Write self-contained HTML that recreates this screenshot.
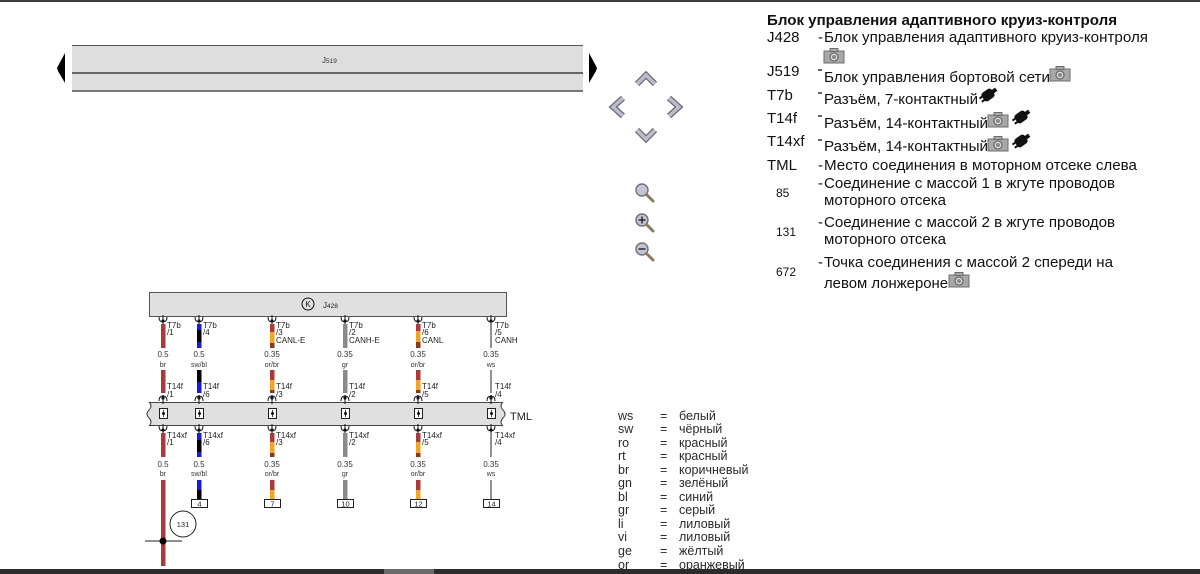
<!DOCTYPE html>
<html><head><meta charset="utf-8"><style>
html,body{margin:0;padding:0;background:#fff;}
svg{display:block;}
text{font-family:"Liberation Sans",Arial,sans-serif;}
</style></head><body>
<svg width="1200" height="574" viewBox="0 0 1200 574" xmlns="http://www.w3.org/2000/svg">
<defs>
<g id="cam">
<rect x="0" y="3" width="20" height="12" fill="#a8a8a8" stroke="#6e6e6e" stroke-width="1"/>
<rect x="6" y="0.5" width="8" height="3" fill="#a8a8a8" stroke="#6e6e6e" stroke-width="1"/>
<circle cx="10" cy="9" r="4" fill="#d8d8d8" stroke="#555" stroke-width="1"/>
<circle cx="10" cy="9" r="2" fill="#888"/>
</g>
<g id="plug">
<g transform="rotate(-35 9 8)">
<rect x="3" y="3" width="12" height="10" rx="3" fill="#111"/>
<rect x="0" y="5" width="4" height="2" fill="#111"/>
<rect x="0" y="9" width="4" height="2" fill="#111"/>
<rect x="14" y="6" width="5" height="4" fill="#111"/>
</g>
</g>
<g id="pinA">
<path d="M-4,-4 Q-4,1 0,1 Q4,1 4,-4" fill="none" stroke="#111" stroke-width="1"/>
<line x1="0" y1="-6" x2="0" y2="3" stroke="#111" stroke-width="1"/>
<circle cx="0" cy="0" r="1.6" fill="#111"/>
</g>
<g id="pinB">
<path d="M-4,3 Q-4,-2 0,-2 Q4,-2 4,3" fill="none" stroke="#111" stroke-width="1"/>
<line x1="0" y1="-3" x2="0" y2="6" stroke="#111" stroke-width="1"/>
<circle cx="0" cy="0" r="1.6" fill="#111"/>
</g>
<g id="mag">
<circle cx="6" cy="6" r="6" fill="#c4c4d6" stroke="#707078" stroke-width="1.4"/>
<line x1="10.5" y1="10.5" x2="17" y2="17" stroke="#8a7a60" stroke-width="3" stroke-linecap="round"/>
</g>
</defs>

<!-- top and bottom bars -->
<rect x="0" y="0" width="1200" height="2" fill="#3c3c3c"/>

<!-- J519 -->
<rect x="72" y="45" width="511" height="47" fill="#dedede"/>
<line x1="72" y1="45.5" x2="583" y2="45.5" stroke="#555" stroke-width="1"/>
<line x1="72" y1="73" x2="583" y2="73" stroke="#666" stroke-width="2"/>
<line x1="72" y1="91" x2="583" y2="91" stroke="#555" stroke-width="1.5"/>
<text x="322" y="63" font-size="8" fill="#333">J<tspan font-size="6.5">519</tspan></text>
<polygon points="65,53 58,66 57,68 58,71 65,83" fill="#000"/>
<polygon points="589,53 596,66 597,68 596,71 589,83" fill="#000"/>

<!-- navigation -->
<g fill="none" stroke-linejoin="miter">
<polyline points="637,84 646,75 655,84" stroke="#6a6a74" stroke-width="6"/>
<polyline points="637,84 646,75 655,84" stroke="#bcbccc" stroke-width="3.5"/>
<polyline points="623,98 613,107 623,116" stroke="#6a6a74" stroke-width="6"/>
<polyline points="623,98 613,107 623,116" stroke="#bcbccc" stroke-width="3.5"/>
<polyline points="669,98 679,107 669,116" stroke="#6a6a74" stroke-width="6"/>
<polyline points="669,98 679,107 669,116" stroke="#bcbccc" stroke-width="3.5"/>
<polyline points="637,130 646,139 655,130" stroke="#6a6a74" stroke-width="6"/>
<polyline points="637,130 646,139 655,130" stroke="#bcbccc" stroke-width="3.5"/>
</g>
<use href="#mag" x="636" y="184"/>
<use href="#mag" x="636" y="214"/>
<line x1="638.5" y1="220" x2="645.5" y2="220" stroke="#222" stroke-width="1.4"/>
<line x1="642" y1="216.5" x2="642" y2="223.5" stroke="#222" stroke-width="1.4"/>
<use href="#mag" x="636" y="243"/>
<line x1="638.5" y1="249" x2="645.5" y2="249" stroke="#222" stroke-width="1.4"/>

<!-- right description -->
<g font-size="15" fill="#111">
<text x="767" y="25" font-weight="bold" textLength="350" lengthAdjust="spacingAndGlyphs">Блок управления адаптивного круиз-контроля</text>
<text x="767" y="42">J428</text>
<text x="818" y="42">-</text>
<text x="824" y="42" textLength="324" lengthAdjust="spacingAndGlyphs">Блок управления адаптивного круиз-контроля</text>
<use href="#cam" x="824" y="48"/>
<text x="767" y="76">J519</text>
<line x1="818" y1="70" x2="822" y2="70" stroke="#111" stroke-width="1.3"/>
<text x="824" y="82" textLength="226" lengthAdjust="spacingAndGlyphs">Блок управления бортовой сети</text>
<use href="#cam" x="1050" y="66"/>
<text x="767" y="100">T7b</text>
<line x1="818" y1="93" x2="822" y2="93" stroke="#111" stroke-width="1.3"/>
<text x="824" y="104" textLength="154" lengthAdjust="spacingAndGlyphs">Разъём, 7-контактный</text>
<use href="#plug" x="979" y="87"/>
<text x="767" y="123">T14f</text>
<line x1="818" y1="116" x2="822" y2="116" stroke="#111" stroke-width="1.3"/>
<text x="824" y="128" textLength="164" lengthAdjust="spacingAndGlyphs">Разъём, 14-контактный</text>
<use href="#cam" x="988" y="112"/>
<use href="#plug" x="1012" y="109"/>
<text x="767" y="146">T14xf</text>
<line x1="818" y1="140" x2="822" y2="140" stroke="#111" stroke-width="1.3"/>
<text x="824" y="151" textLength="164" lengthAdjust="spacingAndGlyphs">Разъём, 14-контактный</text>
<use href="#cam" x="988" y="136"/>
<use href="#plug" x="1012" y="133"/>
<text x="767" y="170">TML</text>
<text x="818" y="170">-</text>
<text x="824" y="170" textLength="313" lengthAdjust="spacingAndGlyphs">Место соединения в моторном отсеке слева</text>
<text x="818" y="188">-</text>
<text x="824" y="188" textLength="291" lengthAdjust="spacingAndGlyphs">Соединение с массой 1 в жгуте проводов</text>
<text x="824" y="205" textLength="122" lengthAdjust="spacingAndGlyphs">моторного отсека</text>
<text x="818" y="227">-</text>
<text x="824" y="227" textLength="291" lengthAdjust="spacingAndGlyphs">Соединение с массой 2 в жгуте проводов</text>
<text x="824" y="244" textLength="122" lengthAdjust="spacingAndGlyphs">моторного отсека</text>
<text x="818" y="267">-</text>
<text x="824" y="267" textLength="289" lengthAdjust="spacingAndGlyphs">Точка соединения с массой 2 спереди на</text>
<text x="824" y="288" textLength="124" lengthAdjust="spacingAndGlyphs">левом лонжероне</text>
<use href="#cam" x="949" y="272"/>
</g>
<g font-size="12" fill="#111">
<text x="776" y="197">85</text>
<text x="776" y="236">131</text>
<text x="776" y="276">672</text>
</g>

<!-- J428 box -->
<rect x="149.5" y="292.5" width="357" height="24" fill="#e0e0e0" stroke="#555" stroke-width="1"/>
<circle cx="308" cy="304" r="6" fill="none" stroke="#111" stroke-width="1"/>
<text x="308" y="307" font-size="8" text-anchor="middle" fill="#111">K</text>
<text x="323" y="308" font-size="8" fill="#222">J<tspan font-size="6.5">428</tspan></text>

<!-- TML bar -->
<path d="M149,402 L503,402 Q499,406 503,410 Q507,414 503,418 Q499,422 503,426 L149,426 Q153,422 149,418 Q145,414 149,410 Q153,406 149,402 Z" fill="#e0e0e0"/>
<line x1="149" y1="402.5" x2="503" y2="402.5" stroke="#444" stroke-width="1"/>
<line x1="149" y1="425.5" x2="503" y2="425.5" stroke="#444" stroke-width="1"/>
<path d="M149,402 Q153,406 149,410 Q145,414 149,418 Q153,422 149,426" fill="none" stroke="#444" stroke-width="1"/>
<path d="M503,402 Q499,406 503,410 Q507,414 503,418 Q499,422 503,426" fill="none" stroke="#444" stroke-width="1"/>
<text x="510" y="420" font-size="11" fill="#222">TML</text>

<!-- wires -->
<g>
<rect x="161" y="324" width="4.5" height="24" fill="#ad3a3a"/>
<rect x="161" y="370" width="4.5" height="23" fill="#ad3a3a"/>
<rect x="161" y="433" width="4.5" height="24" fill="#ad3a3a"/>
<rect x="161" y="480" width="4.5" height="86" fill="#ad3a3a"/>
<rect x="197" y="324" width="4.5" height="6" fill="#1a1ad8"/>
<rect x="197" y="330" width="4.5" height="12" fill="#000"/>
<rect x="197" y="342" width="4.5" height="6" fill="#1a1ad8"/>
<rect x="197" y="370" width="4.5" height="12" fill="#000"/>
<rect x="197" y="382" width="4.5" height="11" fill="#1a1ad8"/>
<rect x="197" y="433" width="4.5" height="7" fill="#1a1ad8"/>
<rect x="197" y="440" width="4.5" height="12" fill="#000"/>
<rect x="197" y="452" width="4.5" height="5" fill="#1a1ad8"/>
<rect x="197" y="480" width="4.5" height="10" fill="#1a1ad8"/>
<rect x="197" y="490" width="4.5" height="9" fill="#000"/>
<rect x="270" y="324" width="4.5" height="8" fill="#ad3a3a"/>
<rect x="270" y="332" width="4.5" height="11" fill="#f2a428"/>
<rect x="270" y="343" width="4.5" height="5" fill="#8a3a1a"/>
<rect x="270" y="370" width="4.5" height="10" fill="#ad3a3a"/>
<rect x="270" y="380" width="4.5" height="10" fill="#f2a428"/>
<rect x="270" y="390" width="4.5" height="3" fill="#8a3a1a"/>
<rect x="270" y="433" width="4.5" height="9" fill="#ad3a3a"/>
<rect x="270" y="442" width="4.5" height="11" fill="#f2a428"/>
<rect x="270" y="453" width="4.5" height="4" fill="#8a3a1a"/>
<rect x="270" y="480" width="4.5" height="10" fill="#ad3a3a"/>
<rect x="270" y="490" width="4.5" height="9" fill="#f2a428"/>
<rect x="343" y="324" width="4.5" height="24" fill="#8a8a8a"/>
<rect x="343" y="370" width="4.5" height="23" fill="#8a8a8a"/>
<rect x="343" y="433" width="4.5" height="24" fill="#8a8a8a"/>
<rect x="343" y="480" width="4.5" height="19" fill="#8a8a8a"/>
<rect x="416" y="324" width="4.5" height="7" fill="#ad3a3a"/>
<rect x="416" y="331" width="4.5" height="11" fill="#f2a428"/>
<rect x="416" y="342" width="4.5" height="6" fill="#8a3a1a"/>
<rect x="416" y="370" width="4.5" height="10" fill="#ad3a3a"/>
<rect x="416" y="380" width="4.5" height="10" fill="#f2a428"/>
<rect x="416" y="390" width="4.5" height="3" fill="#8a3a1a"/>
<rect x="416" y="433" width="4.5" height="9" fill="#ad3a3a"/>
<rect x="416" y="442" width="4.5" height="11" fill="#f2a428"/>
<rect x="416" y="453" width="4.5" height="4" fill="#8a3a1a"/>
<rect x="416" y="480" width="4.5" height="10" fill="#ad3a3a"/>
<rect x="416" y="490" width="4.5" height="9" fill="#f2a428"/>
<g stroke="#222" stroke-width="1">
<line x1="491" y1="324" x2="491" y2="348"/>
<line x1="491" y1="370" x2="491" y2="393"/>
<line x1="491" y1="433" x2="491" y2="457"/>
<line x1="491" y1="480" x2="491" y2="499"/>
</g>
</g>

<!-- pins -->
<use href="#pinA" x="163" y="321"/><use href="#pinA" x="199" y="321"/><use href="#pinA" x="272" y="321"/>
<use href="#pinA" x="345" y="321"/><use href="#pinA" x="418" y="321"/><use href="#pinA" x="491" y="321"/>
<use href="#pinB" x="163" y="398"/><use href="#pinB" x="199" y="398"/><use href="#pinB" x="272" y="398"/>
<use href="#pinB" x="345" y="398"/><use href="#pinB" x="418" y="398"/><use href="#pinB" x="491" y="398"/>
<use href="#pinA" x="163" y="430"/><use href="#pinA" x="199" y="430"/><use href="#pinA" x="272" y="430"/>
<use href="#pinA" x="345" y="430"/><use href="#pinA" x="418" y="430"/><use href="#pinA" x="491" y="430"/>

<!-- TML boxes -->
<g fill="#fff" stroke="#222" stroke-width="1">
<rect x="159.5" y="408.5" width="8" height="10"/><rect x="195.5" y="408.5" width="8" height="10"/>
<rect x="268.5" y="408.5" width="8" height="10"/><rect x="341.5" y="408.5" width="8" height="10"/>
<rect x="414.5" y="408.5" width="8" height="10"/><rect x="487.5" y="408.5" width="8" height="10"/>
</g>
<g fill="#111">
<circle cx="163.5" cy="413.5" r="1.5"/><circle cx="199.5" cy="413.5" r="1.5"/><circle cx="272.5" cy="413.5" r="1.5"/>
<circle cx="345.5" cy="413.5" r="1.5"/><circle cx="418.5" cy="413.5" r="1.5"/><circle cx="491.5" cy="413.5" r="1.5"/>
</g>
<g stroke="#111" stroke-width="0.8">
<line x1="163.5" y1="410" x2="163.5" y2="417"/><line x1="199.5" y1="410" x2="199.5" y2="417"/><line x1="272.5" y1="410" x2="272.5" y2="417"/>
<line x1="345.5" y1="410" x2="345.5" y2="417"/><line x1="418.5" y1="410" x2="418.5" y2="417"/><line x1="491.5" y1="410" x2="491.5" y2="417"/>
</g>

<!-- wire labels -->
<g font-size="8" fill="#222">
<text x="167" y="328">T7b</text><text x="167" y="335">/1</text>
<text x="203" y="328">T7b</text><text x="203" y="335">/4</text>
<text x="276" y="328">T7b</text><text x="276" y="335">/3</text><text x="276" y="343">CANL-E</text>
<text x="349" y="328">T7b</text><text x="349" y="335">/2</text><text x="349" y="343">CANH-E</text>
<text x="422" y="328">T7b</text><text x="422" y="335">/6</text><text x="422" y="343">CANL</text>
<text x="495" y="328">T7b</text><text x="495" y="335">/5</text><text x="495" y="343">CANH</text>

<text x="167" y="389">T14f</text><text x="167" y="397">/1</text>
<text x="203" y="389">T14f</text><text x="203" y="397">/6</text>
<text x="276" y="389">T14f</text><text x="276" y="397">/3</text>
<text x="349" y="389">T14f</text><text x="349" y="397">/2</text>
<text x="422" y="389">T14f</text><text x="422" y="397">/5</text>
<text x="495" y="389">T14f</text><text x="495" y="397">/4</text>

<text x="167" y="438">T14xf</text><text x="167" y="445">/1</text>
<text x="203" y="438">T14xf</text><text x="203" y="445">/6</text>
<text x="276" y="438">T14xf</text><text x="276" y="445">/3</text>
<text x="349" y="438">T14xf</text><text x="349" y="445">/2</text>
<text x="422" y="438">T14xf</text><text x="422" y="445">/5</text>
<text x="495" y="438">T14xf</text><text x="495" y="445">/4</text>
</g>
<g font-size="8" fill="#333" text-anchor="middle">
<text x="163" y="357">0.5</text><text x="199" y="357">0.5</text><text x="272" y="357">0.35</text>
<text x="345" y="357">0.35</text><text x="418" y="357">0.35</text><text x="491" y="357">0.35</text>
<text x="163" y="467">0.5</text><text x="199" y="467">0.5</text><text x="272" y="467">0.35</text>
<text x="345" y="467">0.35</text><text x="418" y="467">0.35</text><text x="491" y="467">0.35</text>
</g>
<g font-size="7" fill="#333" text-anchor="middle" style="font-family:'Liberation Serif',serif">
<text x="163" y="367">br</text><text x="199" y="367">sw/bl</text><text x="272" y="367">or/br</text>
<text x="345" y="367">gr</text><text x="418" y="367">or/br</text><text x="491" y="367">ws</text>
<text x="163" y="476">br</text><text x="199" y="476">sw/bl</text><text x="272" y="476">or/br</text>
<text x="345" y="476">gr</text><text x="418" y="476">or/br</text><text x="491" y="476">ws</text>
</g>

<!-- end boxes -->
<g fill="#fff" stroke="#222" stroke-width="1">
<rect x="191.5" y="499.5" width="16" height="8"/>
<rect x="264.5" y="499.5" width="16" height="8"/>
<rect x="337.5" y="499.5" width="16" height="8"/>
<rect x="410.5" y="499.5" width="16" height="8"/>
<rect x="483.5" y="499.5" width="16" height="8"/>
</g>
<g font-size="7.5" fill="#222" text-anchor="middle">
<text x="199.5" y="506.5">4</text><text x="272.5" y="506.5">7</text><text x="345.5" y="506.5">10</text>
<text x="418.5" y="506.5">12</text><text x="491.5" y="506.5">14</text>
</g>

<!-- ground 131 -->
<circle cx="183" cy="524" r="13" fill="#fff" stroke="#222" stroke-width="1"/>
<text x="183" y="527" font-size="7.5" text-anchor="middle" fill="#222">131</text>
<line x1="145" y1="541" x2="182" y2="541" stroke="#222" stroke-width="1"/>
<circle cx="163" cy="541" r="3.5" fill="#000"/>

<!-- legend -->
<g font-size="12.5" fill="#2a2a2a">
<text x="618" y="420">ws</text><text x="660" y="420">=</text><text x="679" y="420">белый</text>
<text x="618" y="433">sw</text><text x="660" y="433">=</text><text x="679" y="433">чёрный</text>
<text x="618" y="447">ro</text><text x="660" y="447">=</text><text x="679" y="447">красный</text>
<text x="618" y="460">rt</text><text x="660" y="460">=</text><text x="679" y="460">красный</text>
<text x="618" y="474">br</text><text x="660" y="474">=</text><text x="679" y="474">коричневый</text>
<text x="618" y="487">gn</text><text x="660" y="487">=</text><text x="679" y="487">зелёный</text>
<text x="618" y="501">bl</text><text x="660" y="501">=</text><text x="679" y="501">синий</text>
<text x="618" y="514">gr</text><text x="660" y="514">=</text><text x="679" y="514">серый</text>
<text x="618" y="528">li</text><text x="660" y="528">=</text><text x="679" y="528">лиловый</text>
<text x="618" y="541">vi</text><text x="660" y="541">=</text><text x="679" y="541">лиловый</text>
<text x="618" y="555">ge</text><text x="660" y="555">=</text><text x="679" y="555">жёлтый</text>
<text x="618" y="569">or</text><text x="660" y="569">=</text><text x="679" y="569">оранжевый</text>
</g>
<rect x="0" y="569" width="1200" height="5" fill="#2c2c2c"/>
<rect x="384" y="569" width="50" height="5" fill="#6a6a6a"/>
</svg>
</body></html>
